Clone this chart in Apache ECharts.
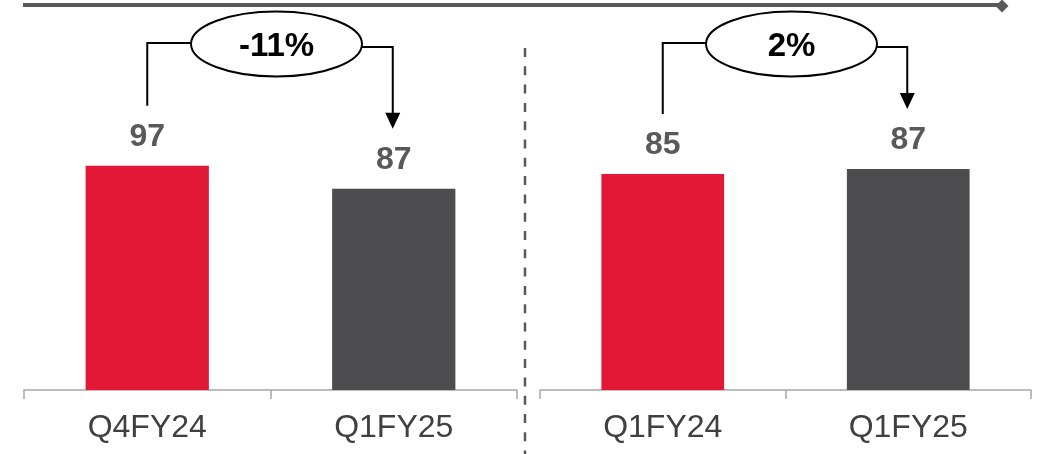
<!DOCTYPE html>
<html>
<head>
<meta charset="utf-8">
<style>
  html, body { margin: 0; padding: 0; background: #ffffff; }
  #chart { width: 1046px; height: 454px; }
</style>
<script src="https://cdn.jsdelivr.net/npm/echarts@6/dist/echarts.min.js"></script>
</head>
<body>
<div id="chart"></div>
<script>
// Quarter-on-quarter (left) and year-on-year (right) comparison
const leftCategories = ['Q4FY24', 'Q1FY25'];
const leftValues = [97, 87];
const rightCategories = ['Q1FY24', 'Q1FY25'];
const rightValues = [85, 87];
const changeLabels = ['-11%', '2%'];
const barColors = ['#E31837', '#4D4D4F'];

const FONT = "'Liberation Sans', Arial, sans-serif";
const AXIS_GREY = '#A6A6A6';
const DARK = '#595959';

const chart = echarts.init(document.getElementById('chart'), null, { renderer: 'canvas' });

function barData(values) {
  return values.map((v, i) => ({ value: v, itemStyle: { color: barColors[i] } }));
}

function xAxisFor(cats, idx) {
  return {
    type: 'category',
    gridIndex: idx,
    data: cats,
    boundaryGap: true,
    axisLine: { show: true, lineStyle: { color: AXIS_GREY, width: 1.5 } },
    axisTick: { show: true, interval: 0, length: 9, lineStyle: { color: AXIS_GREY, width: 1.5 } },
    axisLabel: { fontSize: 32, color: '#404040', fontFamily: FONT, margin: 22, lineHeight: 32 }
  };
}

function yAxisFor(max, idx) {
  return { type: 'value', gridIndex: idx, min: 0, max: max, show: false, splitLine: { show: false } };
}

const valueLabel = {
  show: true,
  position: 'top',
  distance: 13,
  fontSize: 32,
  lineHeight: 32,
  fontWeight: 'bold',
  color: DARK,
  fontFamily: FONT
};

chart.setOption({
  animation: false,
  backgroundColor: '#ffffff',
  grid: [
    { left: 24, width: 493, top: 20, bottom: 64 },
    { left: 540, width: 491, top: 20, bottom: 64 }
  ],
  xAxis: [xAxisFor(leftCategories, 0), xAxisFor(rightCategories, 1)],
  yAxis: [yAxisFor(160, 0), yAxisFor(145.6, 1)],
  series: [
    { type: 'bar', xAxisIndex: 0, yAxisIndex: 0, barWidth: '50%', data: barData(leftValues), label: valueLabel },
    { type: 'bar', xAxisIndex: 1, yAxisIndex: 1, barWidth: '50%', data: barData(rightValues), label: valueLabel }
  ]
});

// Change call-outs: ellipse with the percentage, elbow connector from the
// first bar and an arrow down onto the second bar.
const ELL_CY = 44, ELL_RX = 85.5, ELL_RY = 32.5;
const END_OFFSET = 60;
const graphics = [];

// Header rule with diamond end cap
graphics.push({
  type: 'line', silent: true,
  shape: { x1: 23, y1: 5, x2: 1000, y2: 5 },
  style: { stroke: DARK, lineWidth: 4 }
});
graphics.push({
  type: 'polygon', silent: true,
  shape: { points: [[1002, -0.5], [1008.5, 6], [1002, 12.5], [995.5, 6]] },
  style: { fill: DARK }
});

// Dashed divider between the two panels
graphics.push({
  type: 'line', silent: true,
  shape: { x1: 525, y1: 48, x2: 525, y2: 454 },
  style: { stroke: DARK, lineWidth: 2.5, lineDash: [9, 9.3] }
});

[[leftValues, 0], [rightValues, 1]].forEach(([values, gi], k) => {
  const p0 = chart.convertToPixel({ xAxisIndex: gi, yAxisIndex: gi }, [0, values[0]]);
  const p1 = chart.convertToPixel({ xAxisIndex: gi, yAxisIndex: gi }, [1, values[1]]);
  const cx = (p0[0] + p1[0]) / 2 + 6;
  const startY = p0[1] - END_OFFSET;
  const tipY = p1[1] - END_OFFSET;
  const ax = p1[0] - 1;

  graphics.push({
    type: 'polyline', silent: true,
    shape: { points: [[p0[0], startY], [p0[0], ELL_CY - 1], [cx - ELL_RX, ELL_CY - 1]] },
    style: { stroke: '#000', lineWidth: 2, fill: null }
  });
  graphics.push({
    type: 'polyline', silent: true,
    shape: { points: [[cx + ELL_RX, ELL_CY + 3], [ax, ELL_CY + 3], [ax, tipY - 15]] },
    style: { stroke: '#000', lineWidth: 2, fill: null }
  });
  graphics.push({
    type: 'polygon', silent: true,
    shape: { points: [[ax - 7.5, tipY - 16], [ax + 7.5, tipY - 16], [ax, tipY]] },
    style: { fill: '#000' }
  });
  graphics.push({
    type: 'ellipse', silent: true,
    shape: { cx: cx, cy: ELL_CY, rx: ELL_RX, ry: ELL_RY },
    style: { fill: '#ffffff', stroke: '#000', lineWidth: 2 }
  });
  graphics.push({
    type: 'text', silent: true,
    x: cx, y: ELL_CY + 3,
    style: {
      text: changeLabels[k],
      fill: '#000',
      font: "bold 33px " + FONT,
      textAlign: 'center',
      textVerticalAlign: 'middle'
    }
  });
});

chart.setOption({ graphic: graphics });
</script>
</body>
</html>
